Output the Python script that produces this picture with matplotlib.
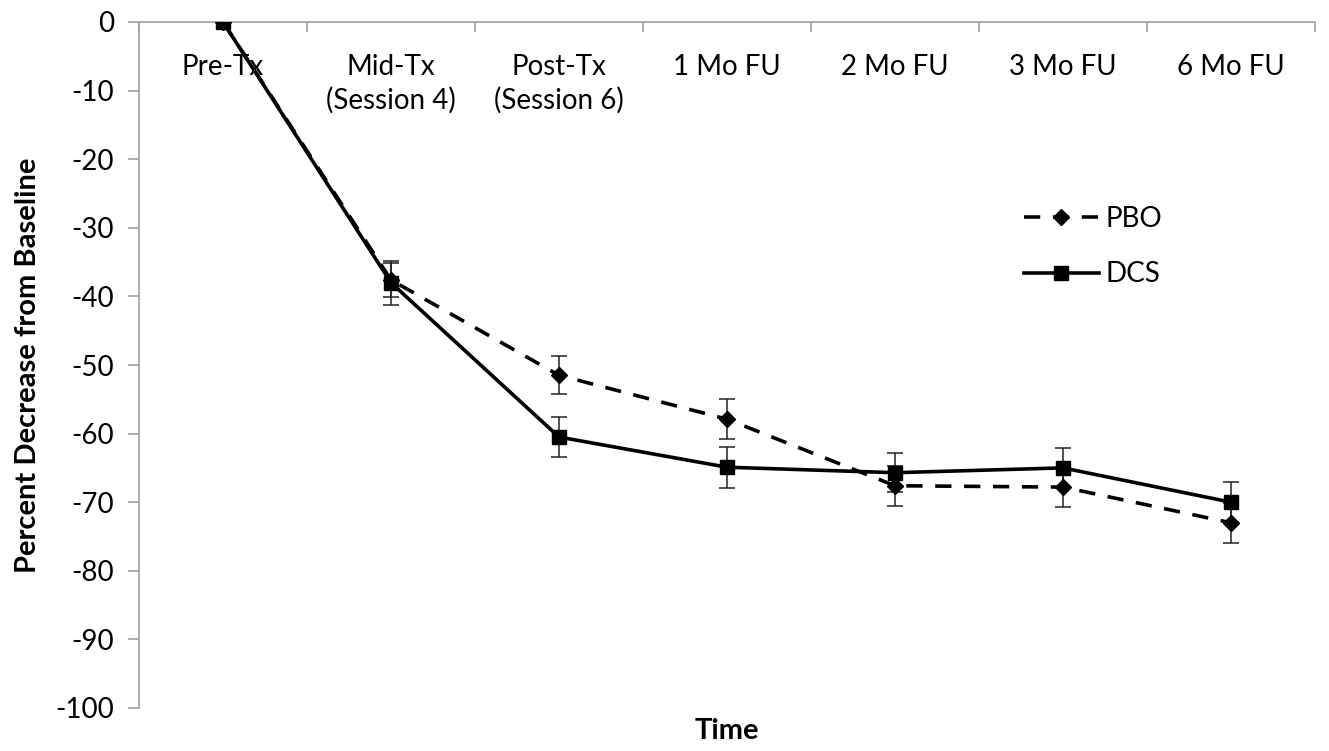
import matplotlib.pyplot as plt
import numpy as np

plt.rcParams['font.family'] = ['Lato', 'DejaVu Sans']
plt.rcParams['axes.unicode_minus'] = False

# Data
times = ['Pre-Tx', 'Mid-Tx\n(Session 4)', 'Post-Tx\n(Session 6)',
         '1 Mo FU', '2 Mo FU', '3 Mo FU', '6 Mo FU']
pbo = [0, -37.6, -51.5, -57.9, -67.6, -67.8, -73.0]
pbo_err = [0, 2.5, 2.8, 2.9, 2.9, 2.9, 2.9]
dcs = [0, -38.0, -60.5, -64.9, -65.7, -65.0, -70.0]
dcs_err = [0, 3.2, 2.9, 3.0, 2.8, 2.9, 2.9]

x = np.arange(len(times))

fig = plt.figure(figsize=(13.29, 7.51), dpi=100)
ax = fig.add_axes([139 / 1329, 1 - 708 / 751, (1315 - 139) / 1329, (708 - 22) / 751])

# error bars (thin, capped)
ax.errorbar(x, pbo, yerr=pbo_err, fmt='none', ecolor='#222222',
            elinewidth=1.1, capsize=6, capthick=1.1, zorder=2)
ax.errorbar(x, dcs, yerr=dcs_err, fmt='none', ecolor='#222222',
            elinewidth=1.1, capsize=6, capthick=1.1, zorder=2)

ax.plot(x, pbo, color='black', lw=2.6, ls=(0, (4.5, 3.5)), marker='D',
        ms=8, label='PBO', zorder=3)
ax.plot(x, dcs, color='black', lw=2.6, ls='-', marker='s',
        ms=10, label='DCS', zorder=4)

ax.set_xlim(-0.5, len(times) - 0.5)
ax.set_ylim(-100, 0)
ax.set_yticks(np.arange(-100, 1, 10))

# category axis sits on y = 0 (top)
ax.spines['bottom'].set_position(('data', 0))
ax.spines['top'].set_visible(False)
ax.spines['right'].set_visible(False)
for s in ['bottom', 'left']:
    ax.spines[s].set_color('#a6a6a6')
    ax.spines[s].set_linewidth(1.3)

ax.set_xticks(np.arange(-0.5, len(times), 1.0))
ax.set_xticklabels([])
ax.set_xticks(x, minor=True)
ax.set_xticklabels(times, minor=True, fontsize=20, linespacing=1.3)
ax.tick_params(axis='x', which='major', direction='out', length=7,
               color='#a6a6a6', width=1.3)
ax.tick_params(axis='x', which='minor', length=0, pad=23)
ax.tick_params(axis='y', direction='out', length=8, color='#a6a6a6',
               width=1.3, labelsize=20, pad=10)

ax.set_ylabel('Percent Decrease from Baseline', fontsize=21, fontweight='bold',
              labelpad=10)
ax.text(0.5, -0.014, 'Time', transform=ax.transAxes, ha='center', va='top',
        fontsize=21, fontweight='bold')

ax.legend(loc='upper left', bbox_to_anchor=(0.731, 0.768), frameon=False,
          fontsize=20, handlelength=2.7, labelspacing=1.05, handletextpad=0.25)

fig.savefig('out.png', dpi=100)
